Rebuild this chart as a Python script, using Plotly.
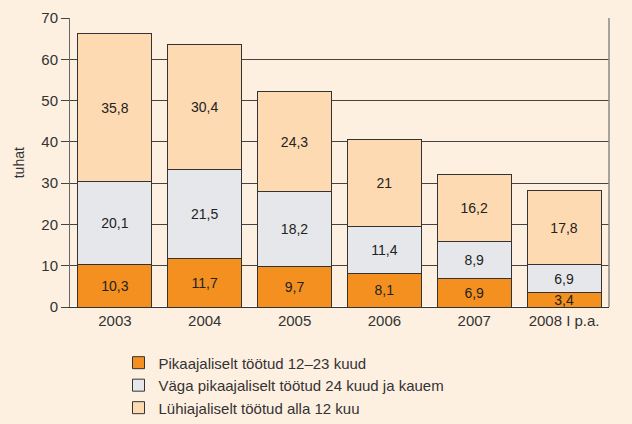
import plotly.graph_objects as go

years = ["2003", "2004", "2005", "2006", "2007", "2008 I p.a."]
pikaajalised = [10.3, 11.7, 9.7, 8.1, 6.9, 3.4]
vaga_pikaajalised = [20.1, 21.5, 18.2, 11.4, 8.9, 6.9]
luhiajalised = [35.8, 30.4, 24.3, 21, 16.2, 17.8]

names = ["Pikaajaliselt töötud 12–23 kuud",
         "Väga pikaajaliselt töötud 24 kuud ja kauem",
         "Lühiajaliselt töötud alla 12 kuu"]
colors = ["#F39020", "#E6E7EA", "#FDDAB2"]
series = [pikaajalised, vaga_pikaajalised, luhiajalised]

def fmt(v):
    return ("%g" % v).replace(".", ",")

fig = go.Figure()
for name, vals, col in zip(names, series, colors):
    fig.add_trace(go.Bar(
        x=years, y=vals, name=name,
        marker=dict(color=col, line=dict(color="#333333", width=1)),
        text=[fmt(v) for v in vals], textposition="inside",
        insidetextanchor="middle",
        textfont=dict(color="#222222", size=14, family="Liberation Sans"),
        constraintext="none",
    ))

fig.update_layout(
    barmode="stack", bargap=0.175,
    width=632, height=424,
    paper_bgcolor="#FEF0E1", plot_bgcolor="#FEF0E1",
    margin=dict(l=70, r=23, t=18, b=117),
    font=dict(family="Liberation Sans", size=14, color="#333333"),
    uniformtext=dict(mode=False),
    xaxis=dict(showline=True, linecolor="#333333", linewidth=1, mirror=False,
               tickfont=dict(size=15), ticks="", showgrid=False, automargin=False),
    yaxis=dict(range=[0, 70], dtick=10, showgrid=True, gridcolor="#444444",
               gridwidth=1, showline=True, linecolor="#666666", linewidth=1,
               ticks="outside", ticklen=8, tickcolor="#444444",
               tickfont=dict(size=15), automargin=False),
    legend=dict(orientation="v", x=0.09, xanchor="left",
                yref="container", y=0.183, yanchor="top",
                bgcolor="rgba(0,0,0,0)", font=dict(size=15),
                traceorder="normal", itemwidth=30, tracegroupgap=0),
    showlegend=True,
    annotations=[dict(text="tuhat", xref="paper", yref="paper", x=-0.095, y=0.5,
                      xanchor="center", yanchor="middle", textangle=-90,
                      showarrow=False, font=dict(size=14, color="#333333"))],
)
fig.add_shape(type="line", xref="paper", yref="paper", x0=1, x1=1, y0=0, y1=1,
              line=dict(color="#888888", width=1.5))

fig.write_html("out.html", config={"displayModeBar": False},
               post_script="document.body.style.margin='0';document.body.style.overflow='hidden';")
